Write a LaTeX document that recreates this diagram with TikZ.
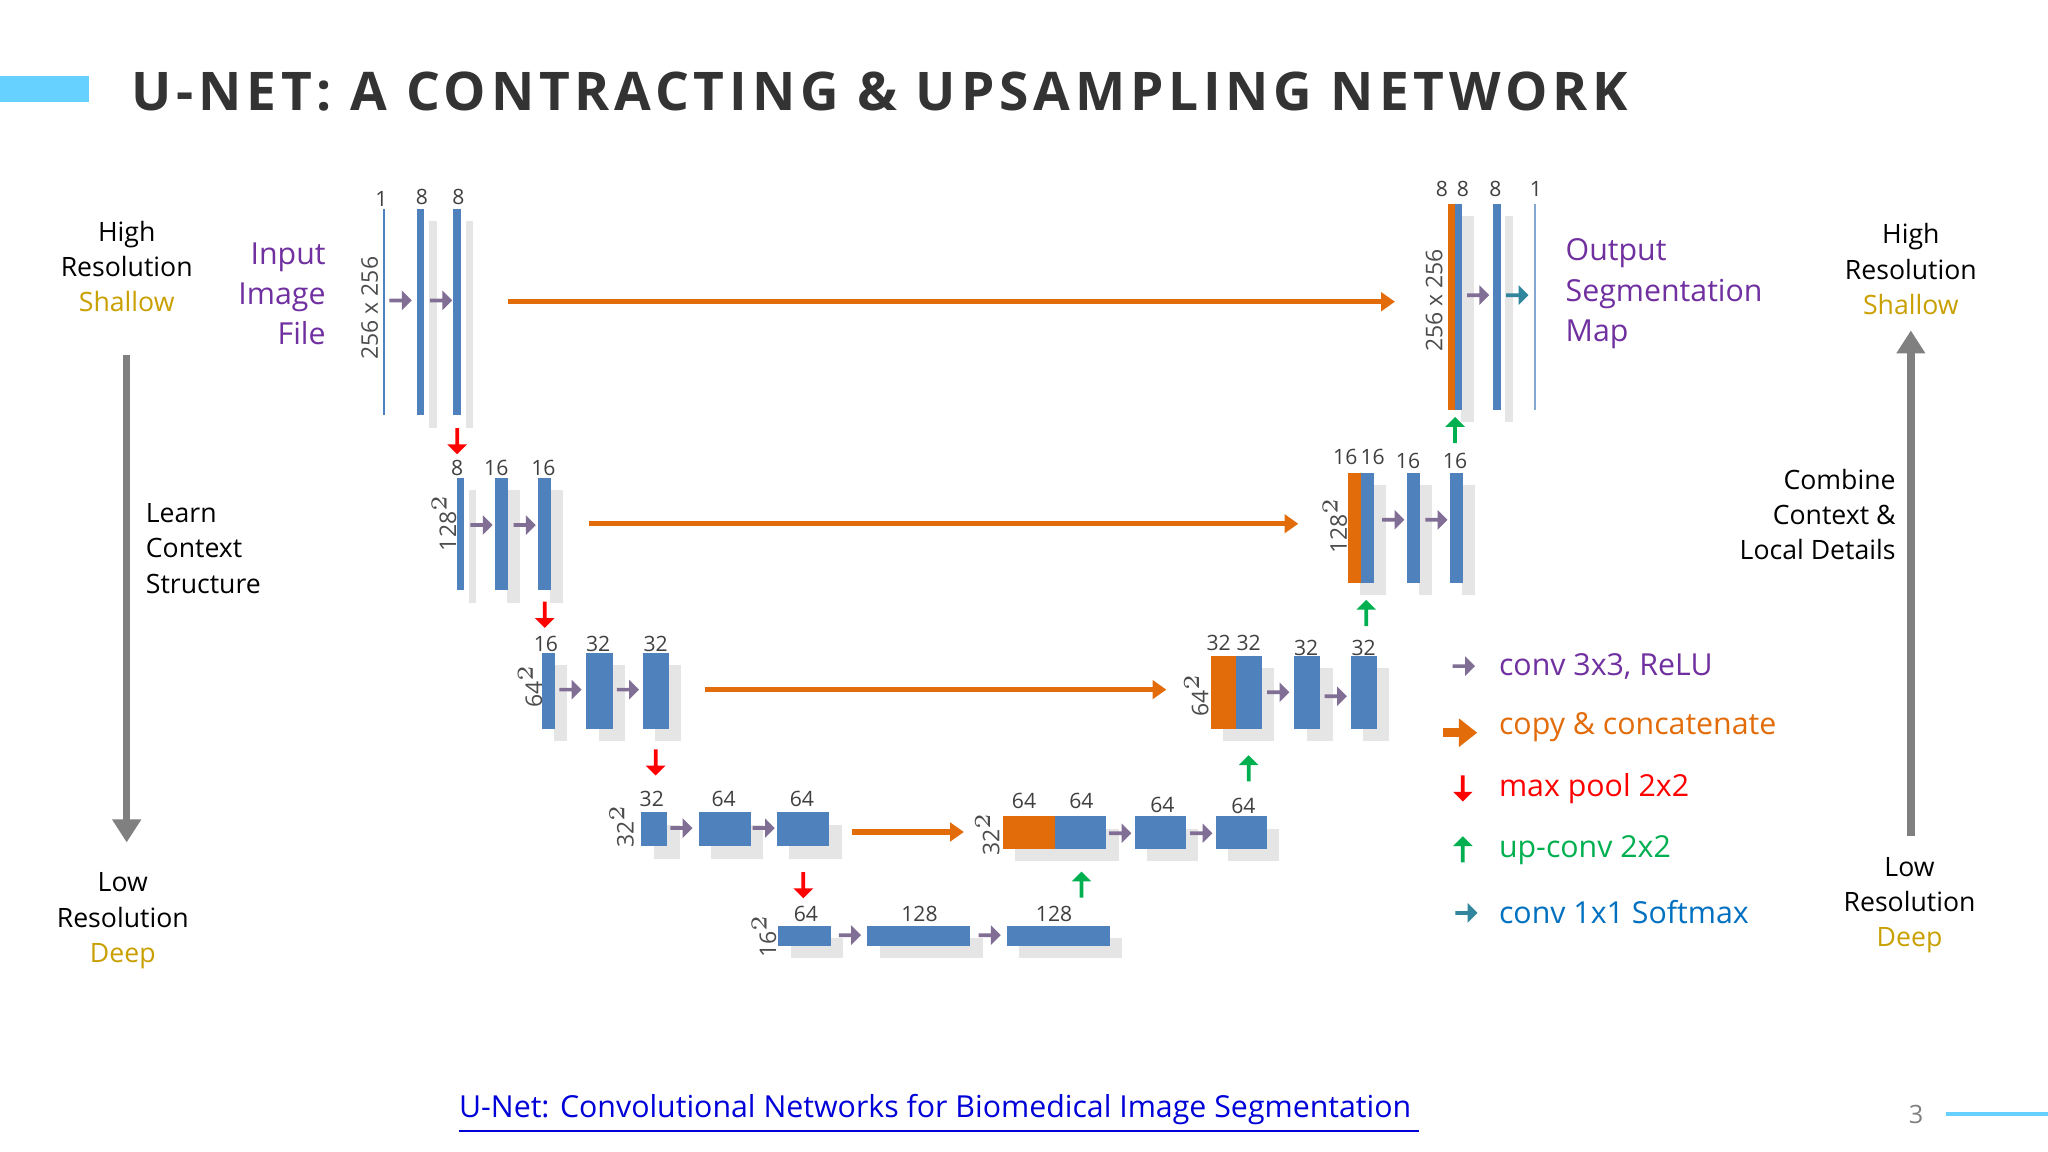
\documentclass[tikz,border=0pt]{standalone}
\usepackage{fontspec}
\setmainfont{Open Sans}
\usetikzlibrary{shapes.arrows,arrows.meta,shadows}
\definecolor{blkblue}{HTML}{4F81BD}
\definecolor{cpyorange}{HTML}{E36C0A}
\definecolor{convpurple}{HTML}{604A7B}
\definecolor{txtpurple}{HTML}{7030A0}
\definecolor{poolred}{HTML}{FF0000}
\definecolor{upgreen}{HTML}{00B050}
\definecolor{smteal}{HTML}{31859C}
\definecolor{lgdteal}{HTML}{0070C0}
\definecolor{gold}{HTML}{C9A000}
\tikzstyle{fat} = [single arrow, minimum height=0.17cm, minimum width=0.15cm, single arrow head extend=0.03cm, inner sep=0pt]
\tikzstyle{conv} = [fat, fill=convpurple!80]
\tikzstyle{soft} = [fat, fill=smteal]
\tikzstyle{pool} = [fat, fill=poolred, shape border rotate=270, minimum height=0.2cm]
\tikzstyle{upc} = [fat, fill=upgreen, shape border rotate=90, minimum height=0.2cm]
\tikzstyle{copy} = [cpyorange, line width=1.1pt, -{Triangle[length=3pt,width=4pt]}]
\tikzstyle{num} = [font=\fontsize{4.6}{5}\selectfont, text=black!75, inner sep=0pt]
\tikzstyle{res} = [font=\fontsize{5}{6}\selectfont, text=black!70, rotate=90, inner sep=0pt]
\tikzstyle{side} = [font=\fontsize{5.8}{7.7}\selectfont, align=center, inner sep=0pt]
\tikzstyle{lgd} = [font=\fontsize{6.6}{8}\selectfont, anchor=west, inner sep=0pt]
\newcommand\blk[5]{\fill[#5, drop shadow={opacity=0.2}] (#1,#3) rectangle (#2,#4);}
\begin{document}
\begin{tikzpicture}[x=0.01cm, y=-0.01cm]
\useasboundingbox (0,0) rectangle (1568,882);
\fill[white] (0,0) rectangle (1568,882);
% title
\fill[blue!30!cyan!60] (0,58) rectangle (68,78);
\node (title) [anchor=west, inner sep=0pt, text=black!80, font=\fontsize{11.6}{14}\selectfont\bfseries\addfontfeatures{LetterSpace=9}] at (100,70) {U-NET: A CONTRACTING \& UPSAMPLING NETWORK};
% contracting path
\draw[blkblue, line width=0.5pt] (294,160) -- (294,318);
\blk{319}{325}{160}{318}{blkblue}
\blk{347}{353}{160}{318}{blkblue}
\blk{350}{355}{366}{452}{blkblue}
\blk{379}{389}{366}{452}{blkblue}
\blk{412}{422}{366}{452}{blkblue}
\blk{415}{425}{500}{558}{blkblue}
\blk{449}{469}{500}{558}{blkblue}
\blk{492}{512}{500}{558}{blkblue}
\blk{491}{511}{622}{648}{blkblue}
\blk{535}{575}{622}{648}{blkblue}
\blk{595}{635}{622}{648}{blkblue}
\blk{596}{636}{709}{724}{blkblue}
\blk{664}{743}{709}{724}{blkblue}
\blk{771}{850}{709}{724}{blkblue}
% expanding path
\blk{768}{808}{625}{650}{cpyorange}
\blk{808}{847}{625}{650}{blkblue}
\blk{869}{908}{625}{650}{blkblue}
\blk{931}{970}{625}{650}{blkblue}
\blk{927}{946}{502}{558}{cpyorange}
\blk{946}{966}{502}{558}{blkblue}
\blk{991}{1011}{502}{558}{blkblue}
\blk{1034}{1054}{502}{558}{blkblue}
\blk{1032}{1042}{362}{446}{cpyorange}
\blk{1042}{1052}{362}{446}{blkblue}
\blk{1077}{1087}{362}{446}{blkblue}
\blk{1110}{1120}{362}{446}{blkblue}
\blk{1109}{1114}{156}{314}{cpyorange}
\blk{1114}{1119}{156}{314}{blkblue}
\blk{1143}{1149}{156}{314}{blkblue}
\draw[blkblue!70, line width=0.5pt] (1175,156) -- (1175,314);
% channel counts
\foreach \x/\y/\t in {292/152/1, 323/151/8, 351/151/8, 350/358/8, 380/358/16, 416/358/16,
  418/493/16, 458/493/32, 502/493/32, 499/612/32, 554/612/64, 614/612/64,
  617/700/64, 704/700/128, 807/700/128, 784/613/64, 828/613/64, 890/616/64, 952/617/64,
  933/492/32, 956/492/32, 1000/496/32, 1044/496/32, 1030/350/16, 1051/350/16, 1078/353/16, 1114/353/16,
  1104/145/8, 1120/145/8, 1145/145/8, 1176/145/1}
  \node[num] at (\x,\y) {\t};
\node[res] at (283,236) {256 x 256};
\node[res] at (340,400) {128$^2$};
\node[res] at (406,525) {64$^2$};
\node[res] at (476,632) {32$^2$};
\node[res] at (585,716) {16$^2$};
\node[res] at (756,638) {32$^2$};
\node[res] at (916,532) {64$^2$};
\node[res] at (1022,402) {128$^2$};
\node[res] at (1098,230) {256 x 256};
% conv arrows
\foreach \x/\y in {306/230, 337/230, 368/402, 401/402, 436/528, 480/528, 521/634, 584/634,
  650/716, 757/716, 857/638, 919/638, 978/530, 1022/533, 1066/398, 1099/398, 1131/226}
  \node[conv] at (\x,\y) {};
\node[soft] at (1161,226) {};
\foreach \x/\y in {350/337, 417/470, 502/583, 615/677}
  \node[pool] at (\x,\y) {};
\foreach \x/\y in {828/678, 956/589, 1046/470, 1114/330}
  \node[upc] at (\x,\y) {};
% skip connections
\coordinate (s1) at (389,231); \coordinate (e1) at (1068,231);
\coordinate (s2) at (451,401); \coordinate (e2) at (994,401);
\coordinate (s3) at (540,528); \coordinate (e3) at (893,528);
\coordinate (s4) at (652,637); \coordinate (e4) at (738,637);
\foreach \i in {1,...,4} \draw[copy] (s\i) -- (e\i);
% side texts
\node (inp) [side, align=right, anchor=east, text=txtpurple, font=\fontsize{6.6}{8.8}\selectfont] at (250,225) {Input\\Image\\File};
\node (outp) [side, align=left, anchor=west, text=txtpurple, font=\fontsize{6.6}{8.8}\selectfont] at (1198,225) {Output\\Segmentation\\Map};
\node (hiL) [side] at (97,204) {High\\Resolution\\\textcolor{gold}{Shallow}};
\node (loL) [side] at (94,705) {Low\\Resolution\\\textcolor{gold}{Deep}};
\node (learn) [side, align=left, anchor=west] at (111,420) {Learn\\Context\\Structure};
\node (hiR) [side] at (1463,206) {High\\Resolution\\\textcolor{gold}{Shallow}};
\node (loR) [side] at (1462,693) {Low\\Resolution\\\textcolor{gold}{Deep}};
\node (comb) [side, align=right, anchor=east] at (1452,394) {Combine\\Context \&\\Local Details};
\coordinate (dl1) at (97,272); \coordinate (dl2) at (97,645);
\coordinate (ur1) at (1463,640); \coordinate (ur2) at (1463,253);
\draw[gray, line width=1.6pt, -{Triangle[length=5pt,width=6pt]}] (dl1) -- (dl2);
\draw[gray, line width=1.6pt, -{Triangle[length=5pt,width=6pt]}] (ur1) -- (ur2);
% legend
\node[conv] at (1120,510) {};
\draw[cpyorange, line width=2pt, -{Triangle[length=4pt,width=6pt]}] (1105,561) -- (1131,561);
\node[pool] at (1120,603) {};
\node[upc] at (1120,651) {};
\node[soft] at (1122,699) {};
\node[lgd, text=txtpurple] at (1147,510) {conv 3x3, ReLU};
\node[lgd, text=cpyorange] at (1147,557) {copy \& concatenate};
\node[lgd, text=poolred] at (1147,604) {max pool 2x2};
\node[lgd, text=upgreen] at (1147,651) {up-conv 2x2};
\node[lgd, text=lgdteal] at (1147,698) {conv 1x1 Softmax};
% footer
\node (link) [font=\fontsize{6.6}{8}\selectfont, text=blue!85!black, inner sep=0pt] at (719,853) {\underline{U-Net: Convolutional Networks for Biomedical Image Segmentation~}};
\node (page) [font=\fontsize{5.5}{7}\selectfont, text=gray] at (1467,853) {3};
\draw[blue!30!cyan!60, line width=1pt] (1490,853) -- (1568,853);
\end{tikzpicture}
\end{document}
